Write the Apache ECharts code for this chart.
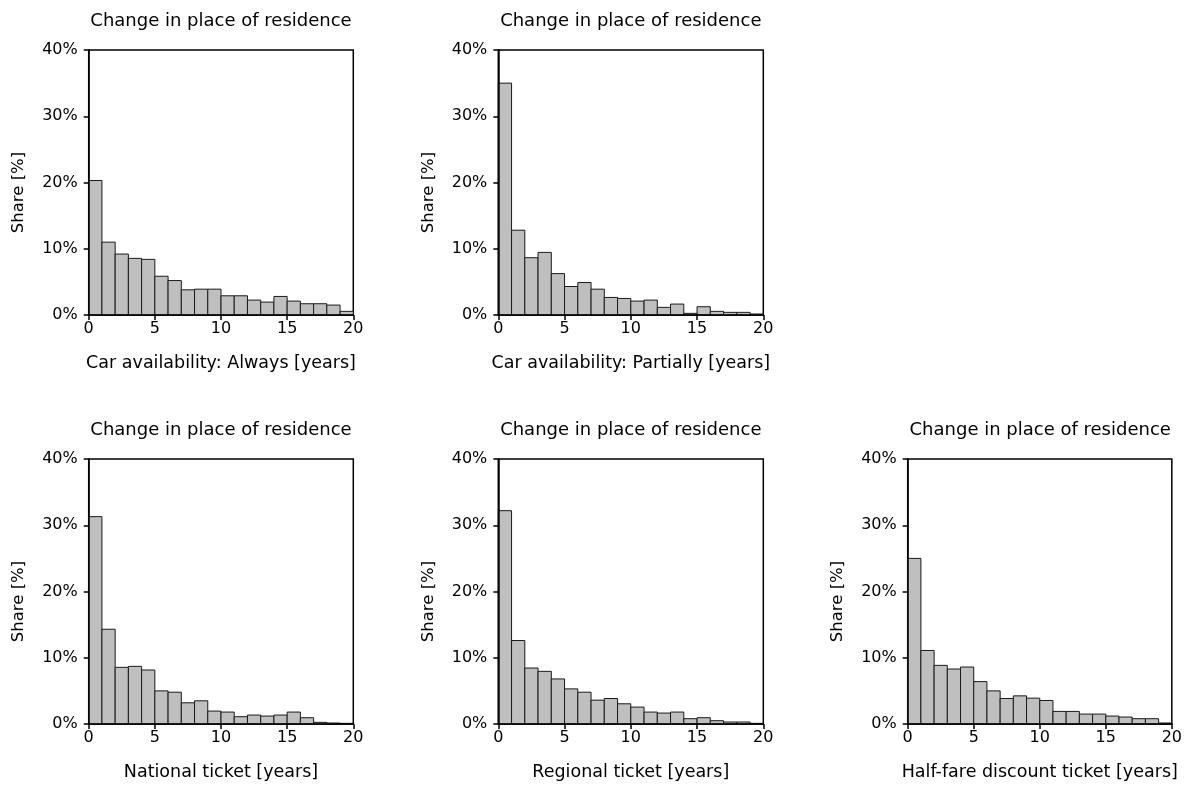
<!DOCTYPE html>
<html>
<head>
<meta charset="utf-8">
<script src="https://cdn.jsdelivr.net/npm/echarts@6/dist/echarts.min.js"></script>
<style>
  html, body { margin: 0; padding: 0; background: #fff; }
  #chart { width: 1185px; height: 785px; }
</style>
</head>
<body>
<div id="chart"></div>
<script>
// share [%] per one-year bin, 0-1 ... 19-20 years
const binStarts = [0,1,2,3,4,5,6,7,8,9,10,11,12,13,14,15,16,17,18,19];
const carAlways  = [20.3, 11.0, 9.2, 8.55, 8.4, 5.85, 5.2, 3.8, 3.9, 3.9, 2.9, 2.9, 2.25, 1.95, 2.8, 2.1, 1.7, 1.7, 1.5, 0.55];
const carPartial = [35.0, 12.8, 8.65, 9.45, 6.25, 4.3, 4.9, 3.9, 2.65, 2.5, 2.1, 2.25, 1.15, 1.65, 0.25, 1.25, 0.55, 0.4, 0.4, 0.15];
const national   = [31.3, 14.3, 8.55, 8.7, 8.15, 5.0, 4.8, 3.2, 3.5, 1.95, 1.8, 1.1, 1.35, 1.2, 1.35, 1.8, 0.95, 0.25, 0.15, 0.1];
const regional   = [32.2, 12.6, 8.45, 7.95, 6.8, 5.3, 4.8, 3.6, 3.85, 3.05, 2.55, 1.8, 1.65, 1.8, 0.8, 0.95, 0.5, 0.3, 0.3, 0.1];
const halfFare   = [25.0, 11.1, 8.85, 8.3, 8.6, 6.4, 5.0, 3.85, 4.25, 3.9, 3.55, 1.9, 1.9, 1.5, 1.5, 1.2, 1.05, 0.8, 0.8, 0.15];

const panelTitle = 'Change in place of residence';
const yName = 'Share [%]';
const xNames = [
  'Car availability: Always [years]',
  'Car availability: Partially [years]',
  'National ticket [years]',
  'Regional ticket [years]',
  'Half-fare discount ticket [years]'
];
const panelData = [carAlways, carPartial, national, regional, halfFare];

// plot boxes [left, top, width, height]
const boxes = [
  [88.7, 50, 264.6, 265],
  [498.3, 50, 265, 265],
  [88.7, 459, 264.6, 265],
  [498.3, 459, 265, 265],
  [907.7, 459, 265, 265]
];

const font = 'DejaVu Sans';

function renderBar(params, api) {
  const topLeft = api.coord([api.value(0), api.value(2)]);
  const bottomRight = api.coord([api.value(1), 0]);
  return {
    type: 'rect',
    shape: {
      x: topLeft[0],
      y: topLeft[1],
      width: bottomRight[0] - topLeft[0],
      height: bottomRight[1] - topLeft[1]
    },
    style: { fill: '#bfbfbf', stroke: '#1a1a1a', lineWidth: 1 }
  };
}

const grids = [], xAxes = [], yAxes = [], series = [], titles = [];

boxes.forEach((b, i) => {
  grids.push({
    left: b[0], top: b[1], width: b[2], height: b[3],
    show: true, borderColor: '#000', borderWidth: 1.5, backgroundColor: 'transparent'
  });
  titles.push({
    text: panelTitle,
    left: b[0] + b[2] / 2,
    top: b[1] - 38,
    textAlign: 'center',
    padding: 0,
    textStyle: { fontFamily: font, fontSize: 18, fontWeight: 'normal', color: '#000' }
  });
  xAxes.push({
    type: 'value', gridIndex: i, min: 0, max: 20, interval: 5, z: 5,
    name: xNames[i], nameLocation: 'middle', nameGap: 39,
    nameTextStyle: { fontFamily: font, fontSize: 17.5, color: '#000' },
    axisLine: { show: true, lineStyle: { color: '#000', width: 1.5 } },
    axisTick: { show: true, inside: false, length: 5, lineStyle: { color: '#000', width: 1.5 } },
    axisLabel: { fontFamily: font, fontSize: 16, color: '#000', margin: 6 },
    splitLine: { show: false }
  });
  yAxes.push({
    type: 'value', gridIndex: i, min: 0, max: 40, interval: 10, z: 5,
    name: yName, nameLocation: 'middle', nameGap: 61,
    nameTextStyle: { fontFamily: font, fontSize: 16.5, color: '#000', padding: [0, 20, 0, 0] },
    axisLine: { show: true, lineStyle: { color: '#000', width: 1.5 } },
    axisTick: { show: true, inside: false, length: 5, lineStyle: { color: '#000', width: 1.5 } },
    axisLabel: { fontFamily: font, fontSize: 16, color: '#000', margin: 11, formatter: '{value}%' },
    splitLine: { show: false }
  });
  series.push({
    type: 'custom',
    xAxisIndex: i, yAxisIndex: i, z: 2,
    renderItem: renderBar,
    encode: { x: [0, 1], y: 2 },
    data: binStarts.map((s, k) => [s, s + 1, panelData[i][k]]),
    silent: true
  });
});

const chart = echarts.init(document.getElementById('chart'), null, { renderer: 'canvas' });
chart.setOption({
  backgroundColor: '#fff',
  animation: false,
  title: titles,
  grid: grids,
  xAxis: xAxes,
  yAxis: yAxes,
  series: series
});
</script>
</body>
</html>
